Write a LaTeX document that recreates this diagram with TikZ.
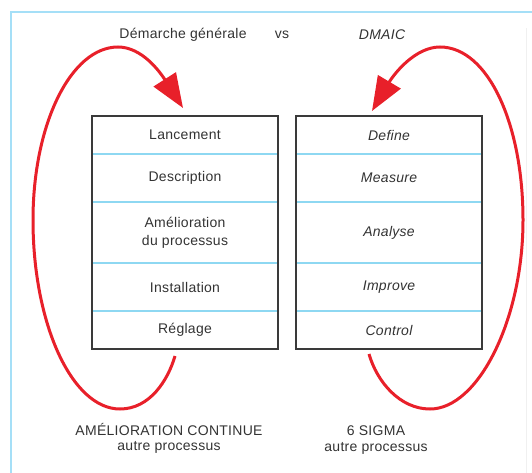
\documentclass[tikz,border=0pt]{standalone}
\usepackage{fontspec}
\setmainfont[LetterSpace=2]{Liberation Sans}
\usetikzlibrary{positioning,arrows.meta}
\definecolor{loopred}{HTML}{E8202A}
\definecolor{rowblue}{HTML}{8ED8F2}
\definecolor{frameblue}{HTML}{A5DFF7}
\definecolor{txtgray}{HTML}{333333}
\definecolor{boxgray}{HTML}{3A3A3A}

\begin{document}
\begin{tikzpicture}[x=1pt,y=1pt,font=\fontsize{14}{18}\selectfont,text=txtgray,
  row/.style={draw=rowblue,line width=1.5pt,minimum width=186pt,inner sep=0pt,outer sep=0pt,align=center},
  boxline/.style={draw=boxgray,line width=2pt},
  redloop/.style={draw=loopred,line width=3pt,-{Triangle[length=34pt,width=26pt]}}]
\useasboundingbox (0,0) rectangle (532,-473);
\draw[frameblue,line width=1.2pt] (11,-473) -- (11,-12) -- (532,-12);
\draw[black!6,line width=0.8pt] (526,-28) -- (526,-473);
% titles
\node (t1) at (183,-35) {Démarche générale};
\node (t2) at (282,-35) {vs};
\node (t3) at (382,-35) {\itshape DMAIC};
% left column
\node[row,minimum height=38pt] (l1) at (185,-135) {Lancement};
\node[row,minimum height=48pt,below=0pt of l1] (l2) {Description};
\node[row,minimum height=61pt,below=0pt of l2] (l3) {Amélioration\\du processus};
\node[row,minimum height=48pt,below=0pt of l3] (l4) {Installation};
\node[row,minimum height=38pt,below=0pt of l4] (l5) {Réglage};
\draw[boxline] (l1.north west) rectangle (l5.south east);
% right column
\node[row,minimum height=38pt] (r1) at (389,-135) {\itshape Define};
\node[row,minimum height=48pt,below=0pt of r1] (r2) {\itshape Measure};
\node[row,minimum height=61pt,below=0pt of r2] (r3) {\itshape Analyse};
\node[row,minimum height=48pt,below=0pt of r3] (r4) {\itshape Improve};
\node[row,minimum height=38pt,below=0pt of r4] (r5) {\itshape Control};
\draw[boxline] (r1.north west) rectangle (r5.south east);
% bottom labels
\node (ac) at (169,-429) {AMÉLIORATION CONTINUE};
\node (ap) at (169,-447) {autre processus};
\node (sg) at (376,-431) {6 SIGMA};
\node (sp) at (376,-448) {autre processus};
% loops
\coordinate (ls) at ([xshift=-10pt,yshift=-7pt]l5.south);
\coordinate (lt) at ([xshift=-2pt,yshift=8pt]l1.north);
\coordinate (rs) at ([xshift=-20pt,yshift=-5pt]r5.south);
\coordinate (rt) at ([xshift=-17pt,yshift=5pt]r1.north);
\draw[redloop] (ls) .. controls (168,-380) and (150,-409) .. (120,-409)
  .. controls (72,-409) and (33,-324) .. (33,-220)
  .. controls (33,-124) and (71,-47) .. (118,-47)
  .. controls (142,-47) and (160,-72) .. (lt);
\draw[redloop] (rs) .. controls (377,-382) and (400,-409) .. (430,-409)
  .. controls (478,-409) and (523,-320) .. (523,-220)
  .. controls (523,-124) and (488,-47) .. (440,-47)
  .. controls (415,-47) and (394,-74) .. (rt);
\end{tikzpicture}
\end{document}
